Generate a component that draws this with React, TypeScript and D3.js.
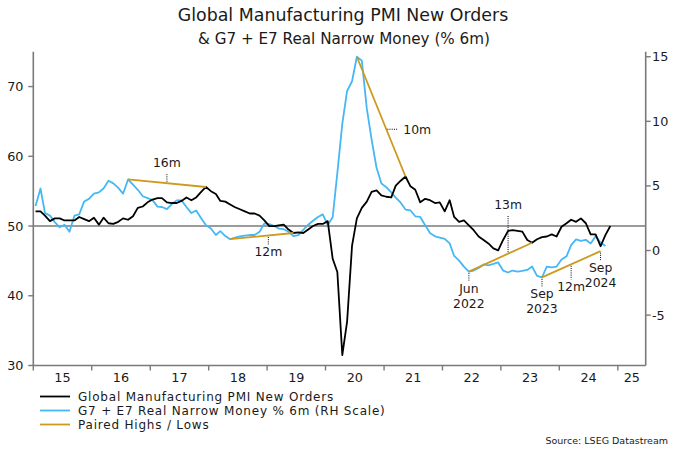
import React from 'react';
import * as d3 from 'd3';

// ---------- DATA ----------
const START_YEAR = 2015; // monthly series start Jan 2015

// Global Manufacturing PMI New Orders (left scale), monthly from Jan 2015
const pmiNewOrders = [
  52.1, 52.1, 51.5, 50.7, 51.1, 51.1, 50.8, 50.8, 50.8, 51.3, 51.0, 50.7,
  51.2, 50.2, 51.2, 50.4, 50.3, 50.6, 51.1, 50.9, 51.4, 52.6, 52.8, 53.4,
  53.8, 54.0, 54.0, 53.4, 53.3, 53.3, 53.6, 54.1, 53.7, 54.1, 54.9, 55.6,
  55.0, 54.6, 53.6, 53.5, 53.1, 52.7, 52.4, 52.1, 51.8, 51.8, 51.5, 50.8,
  50.0, 50.0, 50.1, 50.2, 49.5, 49.0, 49.1, 49.0, 49.5, 50.0, 50.3, 50.3,
  50.7, 45.3, 43.4, 31.5, 36.3, 47.2, 51.1, 52.6, 53.5, 54.9, 55.1, 54.4,
  54.2, 54.1, 55.8, 56.5, 57.1, 55.7, 55.2, 53.4, 53.9, 53.7, 53.3, 53.4,
  52.1, 53.7, 51.3, 50.6, 50.8, 50.1, 49.4, 48.5, 48.0, 47.5, 46.8, 46.5,
  48.0, 49.3, 49.4, 49.3, 49.2, 48.0, 47.6, 48.1, 48.4, 48.5, 48.8, 48.5,
  49.9, 50.4, 50.9, 50.6, 51.1, 50.4, 48.8, 48.8, 47.1, 48.7, 50.0,
];

// G7 + E7 Real Narrow Money % 6m (right scale), monthly from Jan 2015
const realMoney6m = [
  3.45, 4.8, 2.9, 2.7, 2.2, 1.8, 2.0, 1.45, 2.7, 2.8, 3.8, 4.0,
  4.4, 4.5, 4.8, 5.4, 5.2, 4.85, 4.4, 5.5, 5.1, 4.7, 4.2, 4.05,
  3.9, 3.4, 3.37, 3.2, 3.6, 3.88, 3.88, 3.37, 2.9, 3.1, 2.5, 1.96,
  1.7, 1.2, 1.5, 1.12, 0.88, 1.0, 1.1, 1.15, 1.2, 1.2, 1.45, 2.1,
  2.05, 1.9, 1.7, 1.65, 1.45, 1.12, 1.2, 1.6, 2.0, 2.3, 2.6, 2.8,
  1.96, 2.6, 6.0, 9.8, 12.35, 13.1, 15.0, 14.7, 11.0, 8.6, 6.4, 5.2,
  4.9, 4.5, 4.1, 3.7, 3.17, 3.1, 2.65, 2.6, 1.95, 1.35, 1.1, 1.0,
  0.9, 0.55, -0.42, -0.78, -1.25, -1.63, -1.55, -1.35, -1.08, -1.15, -1.04, -0.92,
  -1.55, -1.7, -1.55, -1.63, -1.58, -1.5, -1.24, -1.96, -2.08, -1.24, -1.3, -1.24,
  -0.7, -0.45, 0.42, 0.86, 0.75, 0.83, 0.55, 1.1, 0.62, 0.35,
];

// Paired highs / lows: money turning point (month index, right scale) -> PMI turning point (month index, left scale)
const pairFromMonth = [19, 40, 66, 89, 104];
const pairFromMoney = [5.5, 0.88, 15.0, -1.63, -2.08];
const pairToMonth = [35, 53, 76, 102, 116];
const pairToPmi = [55.6, 49.0, 57.1, 47.6, 46.4];

// Lag annotations along the paired lines
const lagText = ['16m', '12m', '10m', '13m', '12m'];
const lagMonth = [27, 47.8, 72, 97, 110];
const lagDir = ['up', 'down', 'right', 'up', 'down'];

// Date annotations at turning points
const dateLabelSeg = [3, 4, 4];
const dateLabelEnd = ['from', 'from', 'to'];
const dateLabelMonth = ['Jun', 'Sep', 'Sep'];
const dateLabelYear = ['2022', '2023', '2024'];

const yearTickLabels = ['15', '16', '17', '18', '19', '20', '21', '22', '23', '24', '25'];
const leftTicks = [30, 40, 50, 60, 70];
const rightTicks = [-5, 0, 5, 10, 15];

const titleText = 'Global Manufacturing PMI New Orders';
const subtitleText = '& G7 + E7 Real Narrow Money (% 6m)';
const legendLabels = [
  'Global Manufacturing PMI New Orders',
  'G7 + E7 Real Narrow Money % 6m (RH Scale)',
  'Paired Highs / Lows',
];
const sourceText = 'Source: LSEG Datastream';

// ---------- LAYOUT ----------
const W = 680;
const H = 453;
const X0 = 33.3;
const X1 = 645.7;
const YT = 51.7;
const YB = 365.5;
const BLACK = '#000000';
const BLUE = '#45B8F4';
const ORANGE = '#CC9A1E';
const AXIS = '#7a7a7a';
const TXT = '#1a1a1a';
const FONT = '"DejaVu Sans", Verdana, sans-serif';

export default function App() {
  const x = d3.scaleTime()
    .domain([new Date(START_YEAR, 0, 1), new Date(2025, 5, 24)])
    .range([X0, X1]);
  const yL = d3.scaleLinear().domain([30, 75]).range([YB, YT]);
  const yR = d3.scaleLinear().domain([-8.9, 15.39]).range([YB, YT]);

  const monthX = (i: number) => {
    const a = Math.floor(i);
    const f = i - a;
    const x0 = x(new Date(START_YEAR, a, 15));
    if (!f) return x0;
    const x1 = x(new Date(START_YEAR, a + 1, 15));
    return x0 + f * (x1 - x0);
  };

  const pmiLine = d3.line<number>().x((_, i) => monthX(i)).y((d) => yL(d));
  const moneyLine = d3.line<number>().x((_, i) => monthX(i)).y((d) => yR(d));

  const segs = pairFromMonth.map((m, k) => ({
    x1: monthX(m),
    y1: yR(pairFromMoney[k]),
    x2: monthX(pairToMonth[k]),
    y2: yL(pairToPmi[k]),
  }));

  const segYAt = (k: number, px: number) => {
    const s = segs[k];
    return s.y1 + ((px - s.x1) / (s.x2 - s.x1)) * (s.y2 - s.y1);
  };

  const years = d3.range(2015, 2026);
  const domainEnd = x.domain()[1];

  const legendY0 = 396.5;
  const legendStep = 14;
  const legendColors = [BLACK, BLUE, ORANGE];
  const ANN = 12.4;

  return (
    <svg width={W} height={H} style={{ position: 'absolute', left: 0, top: 0, background: '#fff' }} fontFamily={FONT}>
      {/* titles */}
      <text x={343} y={21} textAnchor="middle" fontSize={17.4} fill={TXT}>{titleText}</text>
      <text x={344} y={44} textAnchor="middle" fontSize={15.2} fill={TXT}>{subtitleText}</text>

      {/* 50 reference line */}
      <line x1={X0} x2={X1} y1={yL(50)} y2={yL(50)} stroke={AXIS} strokeWidth={1.6} />

      {/* series */}
      <path d={moneyLine(realMoney6m) || ''} fill="none" stroke={BLUE} strokeWidth={1.8} strokeLinejoin="round" />
      <path d={pmiLine(pmiNewOrders) || ''} fill="none" stroke={BLACK} strokeWidth={1.8} strokeLinejoin="round" />
      {segs.map((s, k) => (
        <line key={'seg' + k} x1={s.x1} y1={s.y1} x2={s.x2} y2={s.y2} stroke={ORANGE} strokeWidth={1.8} />
      ))}

      {/* lag annotations */}
      {lagText.map((t, k) => {
        const px = monthX(lagMonth[k]);
        const py = segYAt(k, px);
        const dir = lagDir[k];
        if (dir === 'right') {
          return (
            <g key={'lag' + k}>
              <line x1={px + 1} x2={px + 11} y1={py} y2={py} stroke="#000" strokeWidth={1} strokeDasharray="1,1.2" />
              <text x={px + 17} y={py + 4.5} fontSize={ANN} fill={TXT}>{t}</text>
            </g>
          );
        }
        const len = k === 3 ? 38 : k === 4 ? 15 : 9;
        const sign = dir === 'up' ? -1 : 1;
        const yEnd = py + sign * len;
        const ty = dir === 'up' ? yEnd - 7 : yEnd + 12;
        return (
          <g key={'lag' + k}>
            <line x1={px} x2={px} y1={py + sign * 1.5} y2={yEnd} stroke="#000" strokeWidth={1} strokeDasharray="1,1.2" />
            <text x={px} y={ty} textAnchor="middle" fontSize={ANN} fill={TXT}>{t}</text>
          </g>
        );
      })}

      {/* date annotations (two-line labels) */}
      {dateLabelSeg.map((k, j) => {
        const s = segs[k];
        const px = dateLabelEnd[j] === 'from' ? s.x1 : s.x2;
        const py = dateLabelEnd[j] === 'from' ? s.y1 : s.y2;
        return (
          <g key={'dl' + j}>
            <line x1={px} x2={px} y1={py + 1.5} y2={py + 9} stroke="#000" strokeWidth={1} strokeDasharray="1,1.2" />
            <text x={px} y={py + 21} textAnchor="middle" fontSize={ANN} fill={TXT}>{dateLabelMonth[j]}</text>
            <text x={px} y={py + 36} textAnchor="middle" fontSize={ANN} fill={TXT}>{dateLabelYear[j]}</text>
          </g>
        );
      })}

      {/* axes */}
      <line x1={X0} x2={X0} y1={YT} y2={YB} stroke={AXIS} strokeWidth={1.6} />
      <line x1={X1} x2={X1} y1={YT} y2={YB} stroke={AXIS} strokeWidth={1.6} />
      <line x1={X0} x2={X1} y1={YB} y2={YB} stroke={AXIS} strokeWidth={1.6} />

      {leftTicks.map((v) => (
        <g key={'lt' + v}>
          <line x1={X0 - 5} x2={X0} y1={yL(v)} y2={yL(v)} stroke={AXIS} strokeWidth={1.4} />
          <text x={23.5} y={yL(v) + 4.5} textAnchor="end" fontSize={12.8} fill={TXT}>{v}</text>
        </g>
      ))}
      {rightTicks.map((v) => (
        <g key={'rt' + v}>
          <line x1={X1} x2={X1 + 5} y1={yR(v)} y2={yR(v)} stroke={AXIS} strokeWidth={1.4} />
          <text x={652} y={yR(v) + 4.5} fontSize={12.8} fill={TXT}>{v}</text>
        </g>
      ))}

      {years.map((yr, k) => {
        const t0 = new Date(yr, 0, 1);
        const t1 = new Date(yr + 1, 0, 1);
        const a = x(t0);
        const b = x(t1 < domainEnd ? t1 : domainEnd);
        return (
          <g key={'yr' + yr}>
            <line x1={a} x2={a} y1={YB} y2={YB + 5} stroke={AXIS} strokeWidth={1.4} />
            <text x={(a + b) / 2} y={YB + 16} textAnchor="middle" fontSize={12.8} fill={TXT}>{yearTickLabels[k]}</text>
          </g>
        );
      })}

      {/* legend */}
      {legendLabels.map((l, k) => (
        <g key={'lg' + k}>
          <line x1={40} x2={70} y1={legendY0 + k * legendStep} y2={legendY0 + k * legendStep} stroke={legendColors[k]} strokeWidth={1.8} />
          <text x={78} y={legendY0 + k * legendStep + 4.3} fontSize={12} letterSpacing={0.8} fill={TXT}>{l}</text>
        </g>
      ))}

      <text x={668} y={444} textAnchor="end" fontSize={9.5} fill={TXT}>{sourceText}</text>
    </svg>
  );
}
